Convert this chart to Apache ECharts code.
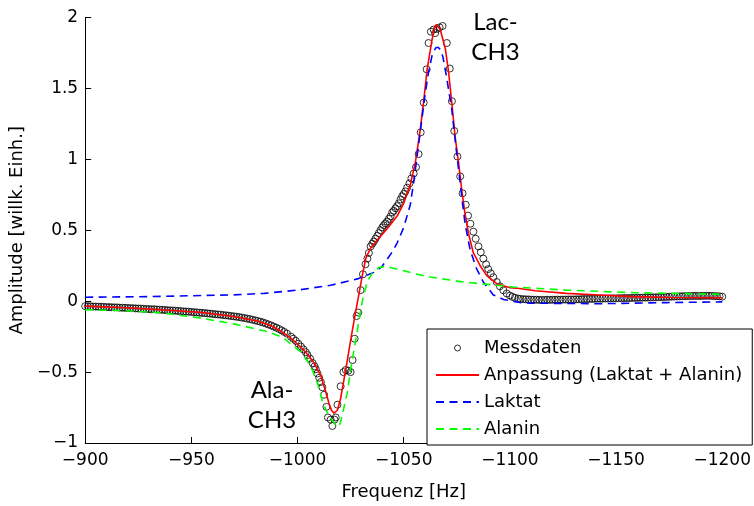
<!DOCTYPE html>
<html>
<head>
<meta charset="utf-8">
<script src="https://cdn.jsdelivr.net/npm/echarts@6/dist/echarts.min.js"></script>
<style>
html,body{margin:0;padding:0;background:#fff;}
#chart{width:754px;height:506px;}
</style>
</head>
<body>
<div id="chart"></div>
<script>
// ---- data ----
const xTicks = [-900, -950, -1000, -1050, -1100, -1150, -1200];
const yTicks = [-1, -0.5, 0, 0.5, 1, 1.5, 2];
const seriesNames = ['Messdaten', 'Anpassung (Laktat + Alanin)', 'Laktat', 'Alanin'];

// Messdaten: [frequency Hz, amplitude]
const messdaten = [
[-900,-0.035],[-901.25,-0.036],[-902.5,-0.036],[-903.75,-0.038],[-905,-0.038],[-906.25,-0.039],[-907.5,-0.040],
[-908.75,-0.040],[-910,-0.042],[-911.25,-0.042],[-912.5,-0.043],[-913.75,-0.044],[-915,-0.044],[-916.25,-0.046],
[-917.5,-0.046],[-918.75,-0.047],[-920,-0.048],[-921.25,-0.049],[-922.5,-0.050],[-923.75,-0.051],[-925,-0.052],
[-926.25,-0.052],[-927.5,-0.054],[-928.75,-0.055],[-930,-0.056],[-931.25,-0.057],[-932.5,-0.057],[-933.75,-0.059],
[-935,-0.060],[-936.25,-0.061],[-937.5,-0.062],[-938.75,-0.064],[-940,-0.065],[-941.25,-0.066],[-942.5,-0.067],
[-943.75,-0.069],[-945,-0.070],[-946.25,-0.072],[-947.5,-0.073],[-948.75,-0.074],[-950,-0.076],[-951.25,-0.078],
[-952.5,-0.079],[-953.75,-0.081],[-955,-0.083],[-956.25,-0.084],[-957.5,-0.086],[-958.75,-0.088],[-960,-0.090],
[-961.25,-0.092],[-962.5,-0.094],[-963.75,-0.095],[-965,-0.098],[-966.25,-0.100],[-967.5,-0.102],[-968.75,-0.105],
[-970,-0.107],[-971.25,-0.110],[-972.5,-0.112],[-973.75,-0.116],[-975,-0.119],[-976.25,-0.123],[-977.5,-0.126],
[-978.75,-0.131],[-980,-0.135],[-981.25,-0.140],[-982.5,-0.145],[-983.75,-0.150],[-985,-0.157],[-986.25,-0.164],
[-987.5,-0.171],[-988.75,-0.179],[-990,-0.187],[-991.25,-0.196],[-992.5,-0.206],[-993.75,-0.217],[-995,-0.229],
[-996.9,-0.25],[-998.0,-0.265],[-999.2,-0.28],[-1000.4,-0.30],[-1001.6,-0.32],[-1002.8,-0.34],
[-1003.9,-0.36],[-1004.7,-0.38],[-1005.9,-0.405],[-1007.1,-0.436],[-1008.0,-0.46],[-1008.6,-0.48],[-1009.4,-0.51],
[-1010.2,-0.54],[-1011.0,-0.57],[-1011.7,-0.607],[-1012.5,-0.66],[-1013.6,-0.745],[-1014.3,-0.82],[-1015.6,-0.835],
[-1016.4,-0.88],[-1017.4,-0.835],[-1018.0,-0.82],[-1018.8,-0.73],[-1020.3,-0.60],[-1021.6,-0.50],[-1022.7,-0.485],
[-1023.9,-0.49],[-1025.0,-0.50],[-1025.9,-0.415],[-1026.9,-0.265],[-1027.8,-0.105],[-1028.6,-0.08],[-1029.7,0.078],
[-1030.8,0.19],[-1032.0,0.26],[-1032.9,0.30],[-1033.6,0.34],[-1034.4,0.386],[-1035.2,0.405],[-1035.9,0.42],
[-1036.7,0.44],[-1037.5,0.46],[-1038.3,0.48],[-1039.1,0.50],[-1039.9,0.52],[-1040.6,0.535],[-1041.4,0.548],
[-1042.2,0.562],[-1043.0,0.58],[-1043.8,0.598],[-1044.6,0.626],[-1045.3,0.637],[-1046.1,0.655],[-1046.9,0.67],
[-1047.7,0.69],[-1048.5,0.717],[-1049.3,0.74],[-1050.0,0.755],[-1050.8,0.774],[-1051.6,0.80],[-1052.7,0.83],
[-1053.6,0.865],[-1054.7,0.90],[-1055.8,0.945],[-1057.0,1.037],[-1058.0,1.19],[-1059.4,1.40],[-1060.8,1.635],
[-1061.7,1.82],[-1062.8,1.90],[-1064.1,1.915],[-1064.8,1.89],[-1065.7,1.92],[-1066.9,1.93],[-1068.3,1.94],
[-1070.3,1.82],[-1071.7,1.64],[-1072.7,1.41],[-1073.8,1.20],[-1075.3,1.02],[-1076.6,0.88],[-1077.7,0.76],
[-1079.2,0.68],[-1080.3,0.603],[-1081.4,0.546],[-1082.8,0.49],[-1083.9,0.44],[-1085.2,0.386],[-1086.3,0.345],
[-1087.5,0.30],[-1088.8,0.26],[-1089.8,0.226],[-1091.0,0.196],[-1092.2,0.169],[-1093.8,0.135],[-1095.3,0.105],
[-1096.9,0.077],[-1098.5,0.054],[-1100.0,0.040],[-1101.2,0.030],[-1102.4,0.024],[-1103.9,0.018],
[-1105,0.016],[-1106.25,0.014],[-1107.5,0.013],[-1108.75,0.012],[-1110,0.011],[-1111.25,0.010],[-1112.5,0.010],
[-1113.75,0.009],[-1115,0.009],[-1116.25,0.008],[-1117.5,0.010],[-1118.75,0.009],[-1120,0.010],[-1121.25,0.010],
[-1122.5,0.011],[-1123.75,0.010],[-1125,0.011],[-1126.25,0.011],[-1127.5,0.012],[-1128.75,0.012],[-1130,0.012],
[-1131.25,0.013],[-1132.5,0.013],[-1133.75,0.014],[-1135,0.015],[-1136.25,0.015],[-1137.5,0.016],[-1138.75,0.016],
[-1140,0.017],[-1141.25,0.017],[-1142.5,0.018],[-1143.75,0.018],[-1145,0.019],[-1146.25,0.019],[-1147.5,0.020],
[-1148.75,0.020],[-1150,0.020],[-1151.25,0.021],[-1152.5,0.021],[-1153.75,0.022],[-1155,0.022],[-1156.25,0.022],
[-1157.5,0.023],[-1158.75,0.023],[-1160,0.024],[-1161.25,0.024],[-1162.5,0.025],[-1163.75,0.025],[-1165,0.026],
[-1166.25,0.026],[-1167.5,0.027],[-1168.75,0.027],[-1170,0.028],[-1171.25,0.029],[-1172.5,0.029],[-1173.75,0.030],
[-1175,0.031],[-1176.25,0.032],[-1177.5,0.033],[-1178.75,0.033],[-1180,0.034],[-1181.25,0.035],[-1182.5,0.035],
[-1183.75,0.036],[-1185,0.036],[-1186.25,0.037],[-1187.5,0.037],[-1188.75,0.036],[-1190,0.037],[-1191.25,0.037],
[-1192.5,0.038],[-1193.75,0.038],[-1195,0.037],[-1196.25,0.036],[-1197.5,0.035],[-1198.75,0.034],[-1200,0.032]
];

// Anpassung (Laktat + Alanin)
const anpassung = [
[-900,-0.035],[-917,-0.045],[-936,-0.06],[-955,-0.08],[-970,-0.108],[-981,-0.14],[-987,-0.17],[-992,-0.21],
[-997,-0.262],[-1001.6,-0.325],[-1005,-0.38],[-1007.8,-0.436],[-1011,-0.527],[-1013.3,-0.64],[-1014.8,-0.72],
[-1016,-0.77],[-1017.2,-0.79],[-1018,-0.785],[-1018.8,-0.767],[-1020.3,-0.686],[-1021.9,-0.55],[-1023.5,-0.413],
[-1025,-0.276],[-1026.6,-0.139],[-1028.9,0.05],[-1030.5,0.18],[-1032.1,0.30],[-1034.4,0.375],[-1037.5,0.43],
[-1042.2,0.51],[-1046.9,0.60],[-1050,0.69],[-1053.1,0.82],[-1055.5,0.98],[-1057.8,1.21],[-1059.4,1.41],
[-1061,1.63],[-1063.3,1.84],[-1064.4,1.92],[-1065.3,1.95],[-1066.2,1.94],[-1067.2,1.915],[-1069.6,1.78],
[-1071.1,1.62],[-1072.7,1.39],[-1074.2,1.16],[-1075.8,0.98],[-1077.4,0.775],[-1078.9,0.614],[-1080.5,0.477],
[-1082.8,0.34],[-1086,0.25],[-1089.1,0.18],[-1093.8,0.123],[-1100,0.095],[-1104.5,0.089],[-1112,0.073],
[-1126.6,0.055],[-1142,0.044],[-1158,0.032],[-1175,0.026],[-1200,0.024]
];

// Laktat
const laktat = [
[-900,0.028],[-930,0.032],[-955,0.04],[-969,0.044],[-984.4,0.055],[-1000,0.078],[-1015.6,0.112],[-1028.2,0.157],
[-1036,0.203],[-1039.5,0.24],[-1042.2,0.295],[-1044.7,0.35],[-1046.9,0.41],[-1050,0.52],[-1053.1,0.68],
[-1054.7,0.84],[-1056.3,1.02],[-1058,1.22],[-1060,1.45],[-1061.5,1.60],[-1063.3,1.73],[-1065,1.785],
[-1066.2,1.79],[-1067.5,1.77],[-1068.5,1.72],[-1070.3,1.57],[-1072.7,1.345],[-1074.2,1.14],[-1075.8,0.935],
[-1077.4,0.73],[-1078.9,0.546],[-1081.3,0.36],[-1084.4,0.226],[-1087.5,0.135],[-1092.2,0.044],[-1097,0.012],
[-1104.7,-0.01],[-1110,-0.014],[-1142,-0.018],[-1174,-0.01],[-1200,-0.005]
];

// Alanin
const alanin = [
[-900,-0.06],[-917,-0.066],[-936,-0.082],[-953,-0.116],[-970,-0.16],[-986,-0.215],[-993,-0.255],[-1001.6,-0.36],
[-1005,-0.43],[-1007.1,-0.49],[-1009.4,-0.58],[-1011.8,-0.71],[-1014.1,-0.79],[-1017.2,-0.86],[-1018.8,-0.885],
[-1020,-0.865],[-1021.1,-0.80],[-1023.5,-0.64],[-1025,-0.48],[-1027.4,-0.276],[-1028.9,-0.139],[-1030.5,0.0],
[-1032.8,0.135],[-1035.2,0.20],[-1038.3,0.237],[-1041.4,0.245],[-1043.8,0.237],[-1050,0.215],[-1056.3,0.19],
[-1062.5,0.17],[-1078.1,0.135],[-1093.8,0.112],[-1101.6,0.10],[-1126.6,0.078],[-1158,0.06],[-1200,0.048]
];

const annotations = [
  {text: 'Lac-\nCH3', x: 495.5, y: 37},
  {text: 'Ala-\nCH3', x: 272, y: 405}
];
// ---------------------------------------

const FONT = 'DejaVu Sans';
const minusFmt = v => String(v).replace('-', '\u2212');
const noSym = {opacity: 0};

const chart = echarts.init(document.getElementById('chart'), null, {renderer: 'canvas'});
chart.setOption({
  animation: false,
  backgroundColor: '#fff',
  grid: {left: 83, right: 31, top: 17.5, bottom: 50.5, containLabel: false},
  xAxis: {
    type: 'value', inverse: true,
    min: xTicks[xTicks.length - 1], max: xTicks[0], interval: 50,
    name: 'Frequenz [Hz]', nameLocation: 'middle', nameGap: 40,
    nameTextStyle: {fontFamily: FONT, fontSize: 18, color: '#000'},
    axisLine: {show: true, onZero: false, lineStyle: {color: '#000', width: 1}},
    axisTick: {show: true, inside: true, length: 6, lineStyle: {color: '#000'}},
    axisLabel: {formatter: minusFmt, fontFamily: FONT, fontSize: 17, color: '#000', margin: 9},
    splitLine: {show: false}
  },
  yAxis: {
    type: 'value',
    min: yTicks[0], max: yTicks[yTicks.length - 1], interval: 0.5,
    name: 'Amplitude [willk. Einh.]', nameLocation: 'middle', nameGap: 51, nameRotate: 90,
    nameTextStyle: {fontFamily: FONT, fontSize: 18, color: '#000'},
    axisLine: {show: true, onZero: false, lineStyle: {color: '#000', width: 1}},
    axisTick: {show: true, inside: true, length: 6, lineStyle: {color: '#000'}},
    axisLabel: {formatter: minusFmt, fontFamily: FONT, fontSize: 17, color: '#000', margin: 7},
    splitLine: {show: false}
  },
  legend: {
    orient: 'vertical', left: 427, top: 329,
    padding: [8, 10, 5, 8], itemWidth: 43, itemHeight: 6, itemGap: 5,
    borderColor: '#000', borderWidth: 1, backgroundColor: '#fff',
    selectedMode: false,
    textStyle: {fontFamily: FONT, fontSize: 18, color: '#000', lineHeight: 22},
    data: [
      {name: seriesNames[0], icon: 'circle', itemStyle: {color: 'transparent', borderColor: '#000', borderWidth: 1}},
      {name: seriesNames[1], itemStyle: noSym},
      {name: seriesNames[2], itemStyle: noSym},
      {name: seriesNames[3], itemStyle: noSym}
    ]
  },
  series: [
    {
      name: seriesNames[0], type: 'scatter', data: messdaten, clip: false, z: 2,
      symbol: 'circle', symbolSize: 7,
      itemStyle: {color: 'transparent', borderColor: '#000', borderWidth: 1},
      emphasis: {disabled: true}, silent: true
    },
    {
      name: seriesNames[1], type: 'line', data: anpassung, z: 3,
      symbol: 'none', showSymbol: false,
      lineStyle: {color: '#ff0000', width: 1.6, type: 'solid'},
      itemStyle: {color: '#ff0000'},
      emphasis: {disabled: true}, silent: true
    },
    {
      name: seriesNames[2], type: 'line', data: laktat, z: 4,
      symbol: 'none', showSymbol: false,
      lineStyle: {color: '#0000ff', width: 1.6, type: [8, 5.5]},
      itemStyle: {color: '#0000ff'},
      emphasis: {disabled: true}, silent: true
    },
    {
      name: seriesNames[3], type: 'line', data: alanin, z: 5,
      symbol: 'none', showSymbol: false,
      lineStyle: {color: '#00ff00', width: 1.6, type: [8, 5.5]},
      itemStyle: {color: '#00ff00'},
      emphasis: {disabled: true}, silent: true
    }
  ],
  graphic: annotations.map(a => ({
    type: 'text', x: a.x, y: a.y, z: 100,
    style: {
      text: a.text, fill: '#000', font: '24px Lato',
      align: 'center', verticalAlign: 'middle', lineHeight: 30
    }
  }))
});
</script>
</body>
</html>
